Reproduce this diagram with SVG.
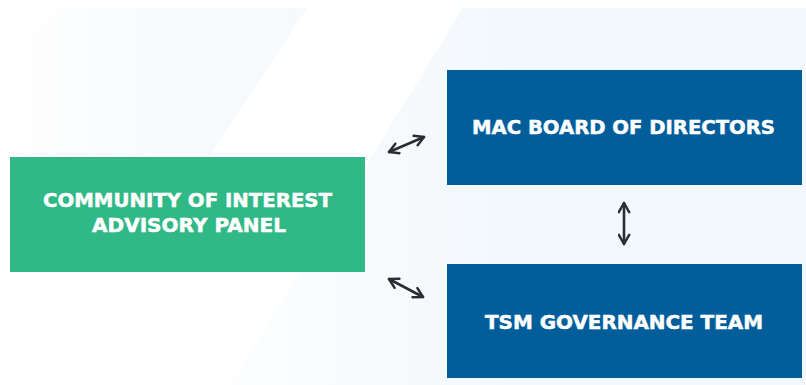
<svg xmlns="http://www.w3.org/2000/svg" width="806" height="385" viewBox="0 0 806 385">
  <defs>
    <style>
      .lbl { font-family: "DejaVu Sans", "Liberation Sans", sans-serif; font-weight: bold; font-size: 19px; fill: #ffffff; stroke: #ffffff; stroke-width: 0.5; }
      .conn { stroke: #2a2e33; stroke-width: 2.6; fill: none; stroke-linecap: round; }
    </style>
    <marker id="head" viewBox="0 0 10 10" refX="8.5" refY="5" markerWidth="5" markerHeight="5" orient="auto-start-reverse" markerUnits="strokeWidth">
      <path d="M1.5,1 L8.5,5 L1.5,9" fill="none" stroke="#2a2e33" stroke-width="1.9" stroke-linecap="round" stroke-linejoin="round"/>
    </marker>
    <linearGradient id="bgA" x1="0" y1="0" x2="1" y2="0">
      <stop offset="0" stop-color="#f6f9fc" stop-opacity="0"/>
      <stop offset="0.5" stop-color="#f6f9fc" stop-opacity="0.8"/>
      <stop offset="1" stop-color="#f7fafc" stop-opacity="1"/>
    </linearGradient>
    <linearGradient id="bgB" x1="0" y1="0" x2="1" y2="0">
      <stop offset="0" stop-color="#f1f7fc" stop-opacity="0.2"/>
      <stop offset="0.5" stop-color="#f1f7fc" stop-opacity="0.9"/>
      <stop offset="1" stop-color="#f2f8fd" stop-opacity="1"/>
    </linearGradient>
  </defs>
  <rect width="806" height="385" fill="#ffffff"/>
  <g id="background">
    <polygon points="60,8 307,8 200,170 0,170 0,60" fill="url(#bgA)"/>
    <polygon points="463,8 806,8 806,385 230,385" fill="url(#bgB)"/>
  </g>
  <g id="connectors">
    <line class="conn" x1="389" y1="152" x2="424" y2="137" marker-start="url(#head)" marker-end="url(#head)"/>
    <line class="conn" x1="389" y1="279" x2="423" y2="297" marker-start="url(#head)" marker-end="url(#head)"/>
    <line class="conn" x1="624" y1="203" x2="624" y2="244" marker-start="url(#head)" marker-end="url(#head)"/>
  </g>
  <g id="node-community">
    <rect x="10" y="157" width="355" height="115" fill="#30b886"/>
    <text class="lbl" x="187.5" y="207" text-anchor="middle" textLength="289" lengthAdjust="spacingAndGlyphs">COMMUNITY OF INTEREST</text>
    <text class="lbl" x="189" y="232" text-anchor="middle" textLength="194" lengthAdjust="spacingAndGlyphs">ADVISORY PANEL</text>
  </g>
  <g id="node-mac">
    <rect x="447" y="70" width="355" height="115" fill="#025e9b"/>
    <text class="lbl" x="623.5" y="134" text-anchor="middle" textLength="303" lengthAdjust="spacingAndGlyphs">MAC BOARD OF DIRECTORS</text>
  </g>
  <g id="node-tsm">
    <rect x="447" y="264" width="355" height="114" fill="#025e9b"/>
    <text class="lbl" x="624" y="329" text-anchor="middle" textLength="278" lengthAdjust="spacingAndGlyphs">TSM GOVERNANCE TEAM</text>
  </g>
</svg>
